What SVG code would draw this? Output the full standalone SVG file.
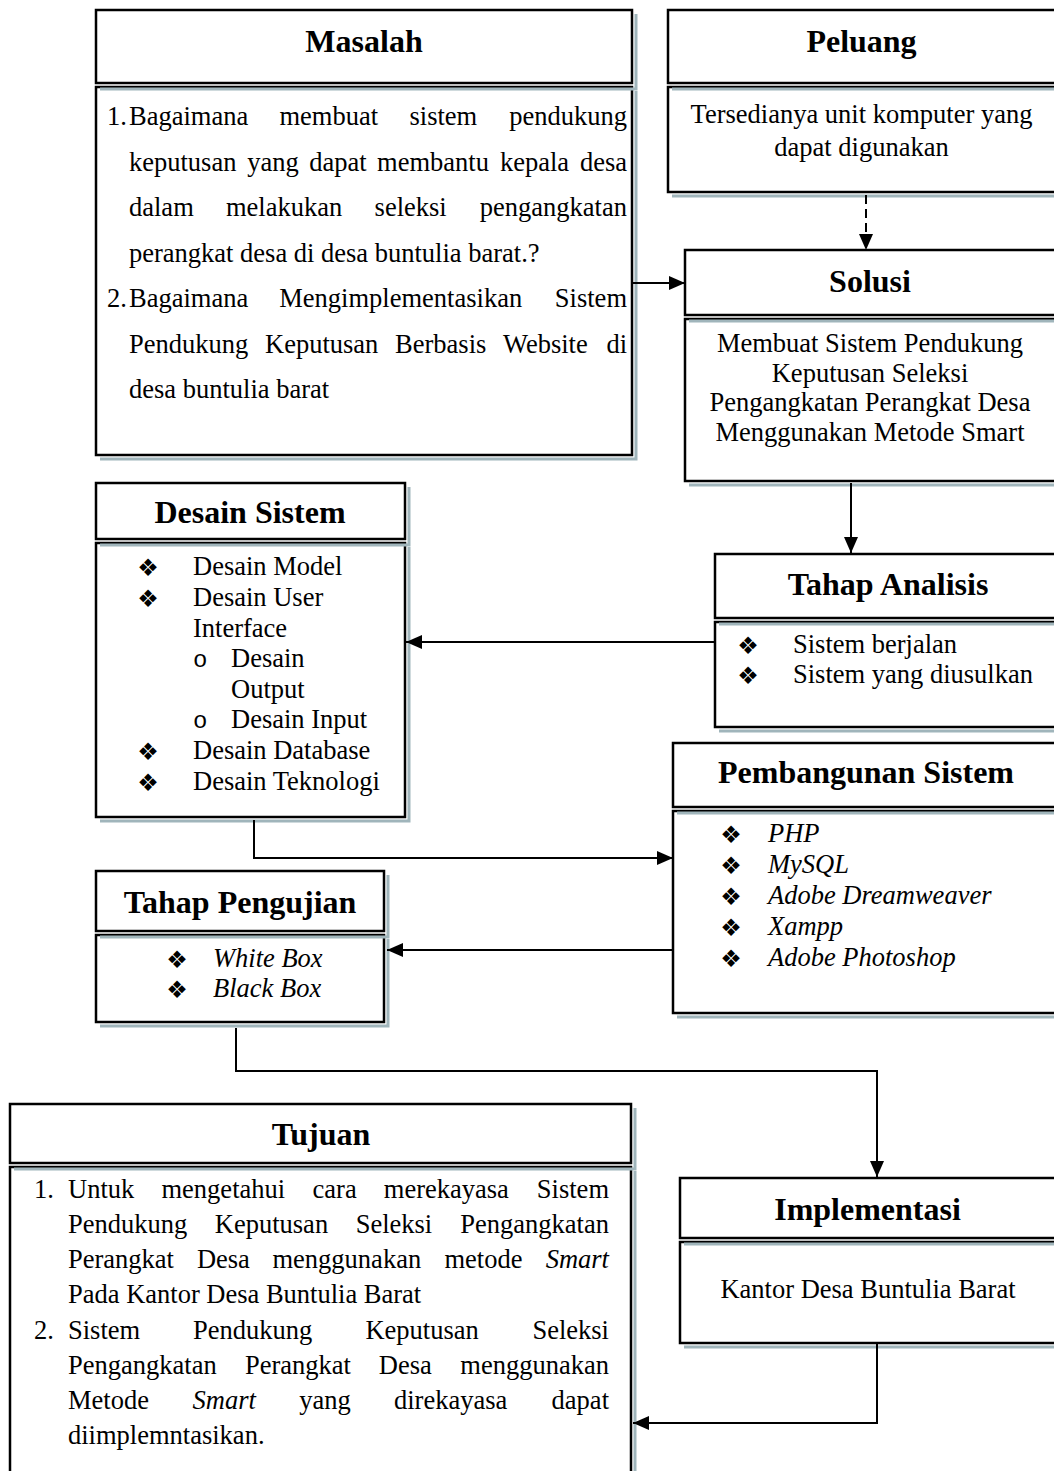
<svg xmlns="http://www.w3.org/2000/svg" width="1054" height="1471" viewBox="0 0 1054 1471">
<style>
.box{fill:#fff;stroke:#000;stroke-width:2.5}
.sh{fill:none;stroke:#a0b5bb;stroke-width:3}
.t{font-family:"Liberation Serif","Times New Roman",serif;font-size:26.5px;fill:#000}
.h{font-family:"Liberation Serif","Times New Roman",serif;font-size:32px;font-weight:bold;text-anchor:middle;fill:#000}
.c{text-anchor:middle}
.e{text-anchor:end}
.i{font-style:italic}
.b{font-family:"DejaVu Sans",sans-serif;font-size:24px;text-anchor:middle;fill:#000}
.o{font-family:"Liberation Mono","Courier New",monospace;font-size:24px;fill:#000}
.conn{fill:none;stroke:#000;stroke-width:2}
</style>
<defs>
<marker id="ah" markerWidth="16" markerHeight="14" refX="16" refY="7" orient="auto" markerUnits="userSpaceOnUse"><path d="M0,0 L16,7 L0,14 z" fill="#000"/></marker>
</defs>
<rect width="1054" height="1471" fill="#fff"/>

<g id="masalah">
<polyline class="sh" points="636,91 636,459 100,459"/>
<rect class="box" x="96" y="87" width="536" height="368"/>
<polyline class="sh" points="636,14 636,89 100,89"/>
<rect class="box" x="96" y="10" width="536" height="73"/>
<text class="h" x="364" y="52">Masalah</text>
<text class="t" x="107" y="125">1.</text>
<text class="t" y="125"><tspan x="129">Bagaimana</tspan><tspan x="279.5">membuat</tspan><tspan x="409.5">sistem</tspan></text>
<text class="t e" x="627" y="125">pendukung</text>
<text class="t" y="170.5"><tspan x="129">keputusan</tspan><tspan x="247.2">yang</tspan><tspan x="309.2">dapat</tspan><tspan x="377.1">membantu</tspan><tspan x="499.9">kepala</tspan></text>
<text class="t e" x="627" y="170.5">desa</text>
<text class="t" y="216"><tspan x="129">dalam</tspan><tspan x="225.9">melakukan</tspan><tspan x="374.6">seleksi</tspan></text>
<text class="t e" x="627" y="216">pengangkatan</text>
<text class="t" x="129" y="261.5">perangkat desa di desa buntulia barat.?</text>
<text class="t" x="107" y="307">2.</text>
<text class="t" y="307"><tspan x="129">Bagaimana</tspan><tspan x="279.3">Mengimplementasikan</tspan></text>
<text class="t e" x="627" y="307">Sistem</text>
<text class="t" y="352.5"><tspan x="129">Pendukung</tspan><tspan x="265">Keputusan</tspan><tspan x="395.1">Berbasis</tspan><tspan x="503">Website</tspan></text>
<text class="t e" x="627" y="352.5">di</text>
<text class="t" x="129" y="398">desa buntulia barat</text>
</g>

<g id="peluang">
<polyline class="sh" points="1064,91 1064,196 672,196"/>
<rect class="box" x="668" y="87" width="392" height="105"/>
<polyline class="sh" points="1064,14 1064,89 672,89"/>
<rect class="box" x="668" y="10" width="392" height="73"/>
<text class="h" x="861.5" y="52">Peluang</text>
<text class="t c" x="861.5" y="123">Tersedianya unit komputer yang</text>
<text class="t c" x="861.5" y="156">dapat digunakan</text>
</g>

<g id="solusi">
<polyline class="sh" points="1064,323 1064,485 689,485"/>
<rect class="box" x="685" y="319" width="375" height="162"/>
<polyline class="sh" points="1064,254 1064,321 689,321"/>
<rect class="box" x="685" y="250" width="375" height="65"/>
<text class="h" x="870" y="292">Solusi</text>
<text class="t c" x="870" y="352">Membuat Sistem Pendukung</text>
<text class="t c" x="870" y="381.5">Keputusan Seleksi</text>
<text class="t c" x="870" y="411">Pengangkatan Perangkat Desa</text>
<text class="t c" x="870" y="440.5">Menggunakan Metode Smart</text>
</g>

<g id="desain-sistem">
<polyline class="sh" points="409,547 409,821 100,821"/>
<rect class="box" x="96" y="543" width="309" height="274"/>
<polyline class="sh" points="409,487 409,545 100,545"/>
<rect class="box" x="96" y="483" width="309" height="56"/>
<text class="h" x="250" y="523">Desain Sistem</text>
<text class="b" x="148" y="576">❖</text>
<text class="t" x="193" y="575">Desain Model</text>
<text class="b" x="148" y="607">❖</text>
<text class="t" x="193" y="606">Desain User</text>
<text class="t" x="193" y="637">Interface</text>
<text class="o" x="193" y="667">o</text>
<text class="t" x="231" y="667">Desain</text>
<text class="t" x="231" y="698">Output</text>
<text class="o" x="193" y="728">o</text>
<text class="t" x="231" y="728">Desain Input</text>
<text class="b" x="148" y="760">❖</text>
<text class="t" x="193" y="759">Desain Database</text>
<text class="b" x="148" y="791">❖</text>
<text class="t" x="193" y="790">Desain Teknologi</text>
</g>

<g id="tahap-analisis">
<polyline class="sh" points="1064,626 1064,731 719,731"/>
<rect class="box" x="715" y="622" width="345" height="105"/>
<polyline class="sh" points="1064,558 1064,624 719,624"/>
<rect class="box" x="715" y="554" width="345" height="64"/>
<text class="h" x="888" y="595">Tahap Analisis</text>
<text class="b" x="748" y="654">❖</text>
<text class="t" x="793" y="653">Sistem berjalan</text>
<text class="b" x="748" y="684">❖</text>
<text class="t" x="793" y="683">Sistem yang diusulkan</text>
</g>

<g id="pembangunan-sistem">
<polyline class="sh" points="1064,815 1064,1017 677,1017"/>
<rect class="box" x="673" y="811" width="387" height="202"/>
<polyline class="sh" points="1064,747 1064,813 677,813"/>
<rect class="box" x="673" y="743" width="387" height="64"/>
<text class="h" x="866" y="783">Pembangunan Sistem</text>
<text class="b" x="731" y="843">❖</text>
<text class="t i" x="768" y="842">PHP</text>
<text class="b" x="731" y="874">❖</text>
<text class="t i" x="768" y="873">MySQL</text>
<text class="b" x="731" y="905">❖</text>
<text class="t i" x="768" y="904">Adobe Dreamweaver</text>
<text class="b" x="731" y="936">❖</text>
<text class="t i" x="768" y="935">Xampp</text>
<text class="b" x="731" y="967">❖</text>
<text class="t i" x="768" y="966">Adobe Photoshop</text>
</g>

<g id="tahap-pengujian">
<polyline class="sh" points="388,939 388,1026 100,1026"/>
<rect class="box" x="96" y="935" width="288" height="87"/>
<polyline class="sh" points="388,875 388,937 100,937"/>
<rect class="box" x="96" y="871" width="288" height="60"/>
<text class="h" x="240" y="913">Tahap Pengujian</text>
<text class="b" x="177" y="968">❖</text>
<text class="t i" x="213" y="967">White Box</text>
<text class="b" x="177" y="998">❖</text>
<text class="t i" x="213" y="997">Black Box</text>
</g>

<g id="implementasi">
<polyline class="sh" points="1064,1246 1064,1347 684,1347"/>
<rect class="box" x="680" y="1242" width="380" height="101"/>
<polyline class="sh" points="1064,1182 1064,1244 684,1244"/>
<rect class="box" x="680" y="1178" width="380" height="60"/>
<text class="h" x="867.5" y="1220">Implementasi</text>
<text class="t c" x="868" y="1298">Kantor Desa Buntulia Barat</text>
</g>

<g id="tujuan">
<polyline class="sh" points="635,1171 635,1480"/>
<rect class="box" x="10" y="1167" width="621" height="320"/>
<polyline class="sh" points="635,1108 635,1169 14,1169"/>
<rect class="box" x="10" y="1104" width="621" height="59"/>
<text class="h" x="321" y="1145">Tujuan</text>
<text class="t" x="34" y="1198">1.</text>
<text class="t" y="1198"><tspan x="68">Untuk</tspan><tspan x="161.5">mengetahui</tspan><tspan x="312.6">cara</tspan><tspan x="383.8">merekayasa</tspan></text>
<text class="t e" x="609" y="1198">Sistem</text>
<text class="t" y="1233"><tspan x="68">Pendukung</tspan><tspan x="214.8">Keputusan</tspan><tspan x="355.7">Seleksi</tspan></text>
<text class="t e" x="609" y="1233">Pengangkatan</text>
<text class="t" y="1268"><tspan x="68">Perangkat</tspan><tspan x="196.9">Desa</tspan><tspan x="272.5">menggunakan</tspan><tspan x="444.4">metode</tspan></text>
<text class="t e i" x="609" y="1268">Smart</text>
<text class="t" x="68" y="1303">Pada Kantor Desa Buntulia Barat</text>
<text class="t" x="34" y="1339">2.</text>
<text class="t" y="1339"><tspan x="68">Sistem</tspan><tspan x="193">Pendukung</tspan><tspan x="365.4">Keputusan</tspan></text>
<text class="t e" x="609" y="1339">Seleksi</text>
<text class="t" y="1374"><tspan x="68">Pengangkatan</tspan><tspan x="244.9">Perangkat</tspan><tspan x="378.8">Desa</tspan></text>
<text class="t e" x="609" y="1374">menggunakan</text>
<text class="t" y="1409"><tspan x="68">Metode</tspan><tspan x="192.5" font-style="italic">Smart</tspan><tspan x="299.2">yang</tspan><tspan x="394">direkayasa</tspan></text>
<text class="t e" x="609" y="1409">dapat</text>
<text class="t" x="68" y="1444">diimplemntasikan.</text>
</g>

<g id="connectors">
<line class="conn" x1="633" y1="283" x2="685" y2="283" marker-end="url(#ah)"/>
<line class="conn" x1="866" y1="195" x2="866" y2="250" stroke-dasharray="9,5" stroke-width="2.5" marker-end="url(#ah)"/>
<line class="conn" x1="851" y1="483" x2="851" y2="553" marker-end="url(#ah)"/>
<line class="conn" x1="714" y1="642" x2="406" y2="642" marker-end="url(#ah)"/>
<polyline class="conn" points="254,820 254,858 673,858" marker-end="url(#ah)"/>
<line class="conn" x1="672" y1="950" x2="387" y2="950" marker-end="url(#ah)"/>
<polyline class="conn" points="236,1028 236,1071 877,1071 877,1177" marker-end="url(#ah)"/>
<polyline class="conn" points="877,1344 877,1423 633,1423" marker-end="url(#ah)"/>
</g>
</svg>
